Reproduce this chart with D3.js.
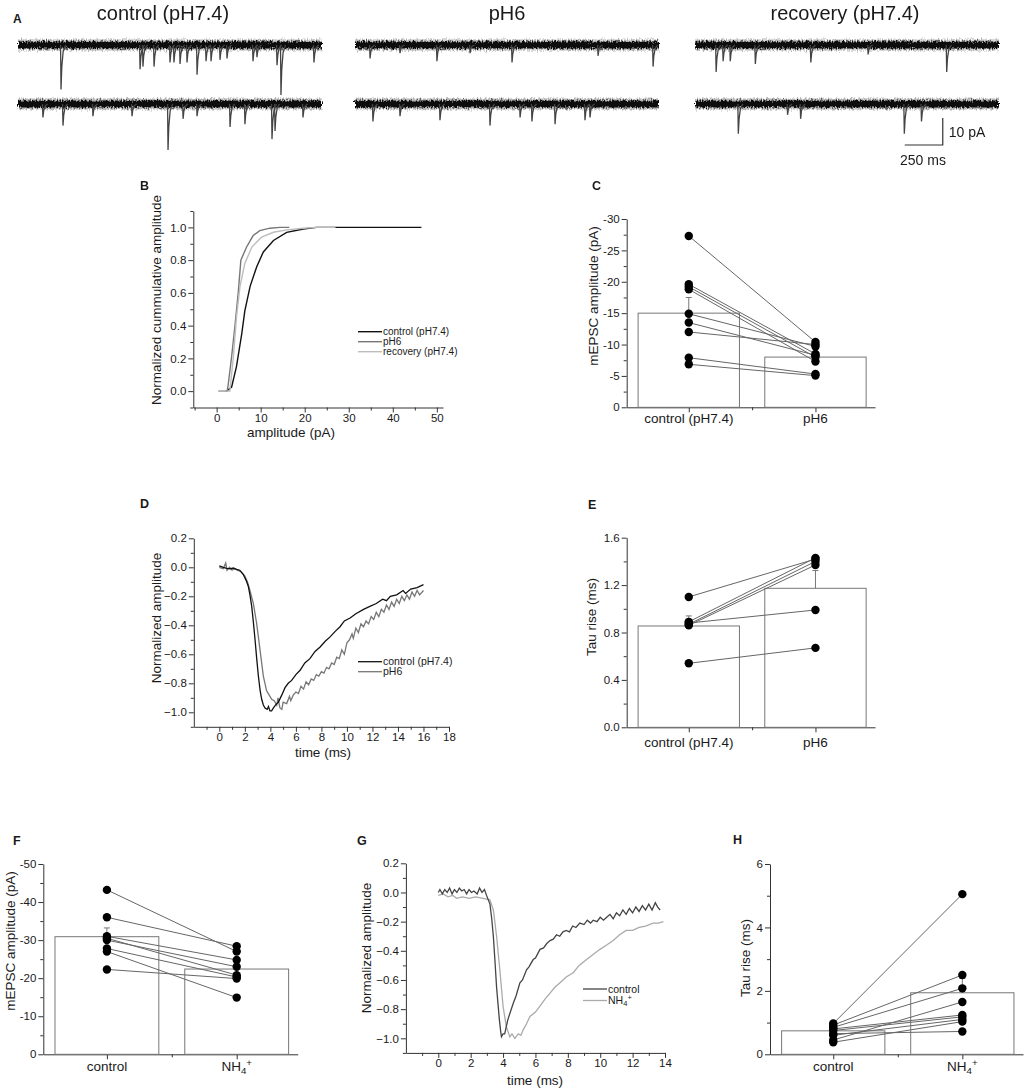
<!DOCTYPE html>
<html><head><meta charset="utf-8">
<script src="https://cdn.jsdelivr.net/npm/d3@7/dist/d3.min.js"></script>
<style>body{margin:0;background:#fff}svg{display:block}text{font-family:"Liberation Sans",Arial,sans-serif;fill:#1a1a1a}</style>
</head><body><svg id="c" width="1027" height="1089">
<defs><filter id="rough" filterUnits="userSpaceOnUse" x="0" y="0" width="1027" height="200">
<feTurbulence type="fractalNoise" baseFrequency="0.8 0.35" numOctaves="2" seed="7" result="n"/>
<feDisplacementMap in="SourceGraphic" in2="n" scale="6" xChannelSelector="R" yChannelSelector="G"/>
</filter></defs></svg>
<script>
// ---------------- DATA ----------------
const traceTitles = ["control (pH7.4)", "pH6", "recovery (pH7.4)"];
// events: [time ms, amplitude pA] (2 rows each)
const evControl1 = [[283,16.5],[803,9],[822,8],[895,8],[1000,6.5],[1026,6.5],[1066,7],[1112,6.5],[1178,11],[1237,6],[1270,6],[1329,5.5],[1375,5],[1546,6],[1572,4.5],[1704,7.5],[1730,18.5],[1947,6.5]];
const evControl2 = [[164,5],[296,8],[493,4.5],[750,4.5],[987,17],[1086,5.5],[1178,4.5],[1395,8.5],[1493,7.5],[1671,13],[1691,10],[1875,5]];
const evPH61 = [[99,5],[296,3],[539,6],[757,3],[1033,6.5],[1599,4],[1961,8]];
const evPH62 = [[118,6.5],[296,4.5],[559,6],[888,8],[1086,5],[1164,6.5],[1316,7.5],[1513,6],[1546,5]];
const evRec1 = [[139,10],[185,6],[232,6],[397,7],[762,6.5],[1139,3.5],[1656,10]];
const evRec2 = [[285,11],[609,4],[695,5.5],[1377,11],[1490,6.5]];

// B cumulative
const bLegend = ["control (pH7.4)", "pH6", "recovery (pH7.4)"];
const bControl = [[2.0,0],[2.3,0],[3.4,0.025],[4.5,0.15],[5.7,0.35],[6.4,0.49],[7.6,0.64],[9.1,0.76],[10.6,0.85],[12.9,0.92],[15.9,0.97],[19.7,0.99],[22.7,1.0],[46.5,1.0]];
const bPH6 = [[0.4,0],[2.4,0],[2.65,0.045],[3.4,0.21],[4.2,0.41],[4.9,0.6],[5.5,0.8],[6.8,0.88],[8.3,0.95],[9.8,0.98],[12.1,0.995],[14.4,1.0],[16.5,1.0]];
const bRecovery = [[0.4,0],[3.0,0],[3.8,0.21],[4.5,0.45],[5.3,0.64],[6.4,0.78],[8.0,0.88],[10.2,0.94],[12.9,0.97],[15.9,0.985],[19.7,0.995],[22.7,1.0],[27,1.0]];

// C amplitude pairs (pA)
const cCategories = ["control (pH7.4)", "pH6"];
const cMeans = [-15.0, -8.0];
const cSem = [2.5, 0.7];
const cControl = [-27.3,-19.6,-19.2,-18.8,-14.9,-13.5,-12.0,-7.9,-6.85];
const cPH6 = [-10.4,-8.5,-8.0,-7.3,-9.7,-8.3,-10.0,-5.3,-5.05];

// D averaged mEPSC
const dLegend = ["control (pH7.4)", "pH6"];
const dControl = [[0,0.01],[0.3,0.0],[0.58,-0.007],[0.9,-0.01],[1.1,-0.005],[1.36,-0.014],[1.6,-0.02],[1.88,-0.05],[2.1,-0.09],[2.27,-0.13],[2.4,-0.19],[2.54,-0.27],[2.67,-0.38],[2.8,-0.5],[2.93,-0.63],[3.06,-0.75],[3.2,-0.85],[3.32,-0.91],[3.45,-0.95],[3.58,-0.97],[3.75,-0.98],[3.85,-0.96],[3.97,-0.99],[4.1,-0.99],[4.24,-0.97],[4.4,-0.95],[4.63,-0.93],[4.9,-0.88],[5.15,-0.83],[5.4,-0.8],[5.67,-0.78],[6.0,-0.74],[6.33,-0.71],[6.7,-0.66],[7.1,-0.63],[7.5,-0.58],[7.9,-0.55],[8.3,-0.51],[8.68,-0.48],[9.1,-0.44],[9.46,-0.41],[9.8,-0.37],[10.25,-0.35],[10.7,-0.32],[11.3,-0.29],[11.8,-0.27],[12.3,-0.25],[12.8,-0.22],[13.1,-0.23],[13.4,-0.2],[13.9,-0.19],[14.4,-0.16],[14.6,-0.18],[15.0,-0.15],[15.5,-0.14],[16.0,-0.12]];
const dPH6 = [[0,0],[0.3,-0.01],[0.5,0.03],[0.6,-0.02],[0.8,0],[1.0,-0.02],[1.2,-0.01],[1.4,-0.02],[1.7,-0.03],[2.0,-0.06],[2.2,-0.1],[2.4,-0.16],[2.67,-0.25],[2.93,-0.39],[3.19,-0.57],[3.45,-0.75],[3.7,-0.85],[3.9,-0.88],[4.1,-0.91],[4.3,-0.92],[4.5,-0.95],[4.6,-0.9],[4.75,-0.97],[4.9,-0.98],[5.0,-0.93],[5.28,-0.94],[5.5,-0.89],[5.6,-0.92],[5.8,-0.88],[6.0,-0.86],[6.2,-0.87],[6.4,-0.82],[6.6,-0.84],[6.8,-0.79],[7.0,-0.81],[7.2,-0.77],[7.4,-0.78],[7.6,-0.74],[7.8,-0.75],[8.0,-0.72],[8.2,-0.73],[8.4,-0.69],[8.6,-0.7],[8.8,-0.66],[9.0,-0.67],[9.2,-0.62],[9.4,-0.63],[9.6,-0.57],[9.8,-0.6],[10.0,-0.52],[10.2,-0.5],[10.4,-0.46],[10.5,-0.49],[10.7,-0.42],[10.9,-0.45],[11.1,-0.39],[11.3,-0.41],[11.5,-0.37],[11.7,-0.39],[11.9,-0.34],[12.1,-0.36],[12.3,-0.31],[12.5,-0.34],[12.7,-0.29],[12.9,-0.31],[13.1,-0.26],[13.3,-0.29],[13.5,-0.24],[13.7,-0.27],[13.9,-0.22],[14.1,-0.25],[14.3,-0.2],[14.5,-0.23],[14.7,-0.19],[14.9,-0.22],[15.1,-0.17],[15.3,-0.2],[15.5,-0.16],[15.7,-0.19],[16.0,-0.16]];

// E tau rise (ms)
const eCategories = ["control (pH7.4)", "pH6"];
const eMeans = [0.855, 1.173];
const eSem = [0.085, 0.15];
const eControl = [1.10, 0.89, 0.87, 0.86, 0.88, 0.54];
const ePH6 = [1.42, 1.43, 1.40, 1.37, 0.99, 0.67];

// F amplitude (pA)
const fCategories = ["control", "NH4+"];
const fMeans = [-30.9, -22.4];
const fSem = [2.3, 1.4];
const fControl = [-43.2,-36.0,-31.0,-30.5,-30.0,-27.8,-27.0,-22.3];
const fNH4 = [-27.0,-28.4,-24.8,-20.8,-23.0,-20.3,-14.9,-19.9];

// G averaged mEPSC
const gLegend = ["control", "NH4+"];
const gControl = [[0,0],[0.1,0.02],[0.25,-0.01],[0.4,0.02],[0.55,0.0],[0.7,0.03],[0.85,-0.01],[1.0,0.02],[1.15,0.0],[1.3,0.03],[1.45,0.01],[1.6,0.02],[1.75,-0.01],[1.9,0.02],[2.05,0.0],[2.2,0.01],[2.4,-0.01],[2.55,0.03],[2.7,0.0],[2.85,0.02],[2.98,-0.02],[3.19,-0.08],[3.3,-0.18],[3.4,-0.3],[3.5,-0.47],[3.6,-0.65],[3.7,-0.78],[3.77,-0.87],[3.85,-0.95],[3.9,-0.99],[4.0,-0.97],[4.1,-0.97],[4.2,-0.92],[4.3,-0.87],[4.45,-0.82],[4.63,-0.76],[4.8,-0.71],[5.04,-0.62],[5.2,-0.6],[5.45,-0.53],[5.6,-0.51],[5.86,-0.46],[6.0,-0.45],[6.28,-0.39],[6.5,-0.38],[6.7,-0.35],[6.9,-0.33],[7.1,-0.32],[7.3,-0.29],[7.5,-0.3],[7.7,-0.27],[7.9,-0.26],[8.1,-0.27],[8.3,-0.23],[8.5,-0.24],[8.74,-0.21],[9.0,-0.22],[9.2,-0.19],[9.4,-0.21],[9.57,-0.19],[9.8,-0.2],[10.0,-0.17],[10.2,-0.19],[10.4,-0.17],[10.6,-0.15],[10.8,-0.18],[11.0,-0.14],[11.2,-0.16],[11.4,-0.12],[11.6,-0.15],[11.8,-0.11],[12.0,-0.14],[12.2,-0.1],[12.4,-0.13],[12.6,-0.09],[12.8,-0.12],[13.0,-0.08],[13.2,-0.12],[13.4,-0.07],[13.55,-0.1],[13.7,-0.12]];
const gNH4 = [[0,-0.02],[0.3,-0.01],[0.6,-0.03],[0.9,-0.02],[1.13,-0.04],[1.5,-0.03],[1.9,-0.04],[2.3,-0.03],[2.78,-0.04],[3.19,-0.05],[3.4,-0.12],[3.6,-0.3],[3.8,-0.53],[4.0,-0.78],[4.2,-0.92],[4.42,-0.99],[4.55,-0.97],[4.73,-1.0],[4.94,-0.97],[5.1,-0.98],[5.25,-0.94],[5.45,-0.9],[5.66,-0.85],[6.0,-0.82],[6.28,-0.78],[6.6,-0.73],[6.9,-0.69],[7.2,-0.65],[7.5,-0.62],[7.9,-0.58],[8.33,-0.55],[8.7,-0.5],[9.16,-0.46],[9.5,-0.43],[9.98,-0.39],[10.4,-0.36],[10.8,-0.33],[11.2,-0.29],[11.6,-0.26],[12.0,-0.26],[12.4,-0.24],[12.8,-0.23],[13.27,-0.21],[13.6,-0.21],[13.9,-0.2]];

// H tau rise (ms)
const hCategories = ["control", "NH4+"];
const hMeans = [0.74, 1.94];
const hSem = [0.07, 0.45];
const hControl = [0.97,0.92,0.85,0.45,0.80,0.75,0.60,0.38,0.65];
const hNH4 = [5.05,2.5,2.08,1.65,1.24,1.18,1.10,1.03,0.72];

// ---------------- DRAWING ----------------
const svg = d3.select("#c");
const AX = "#333", TICKFS = 11.5, LABFS = 13.5;

function label(txt, x, y, opts = {}) {
  const t = svg.append("text").attr("x", x).attr("y", y)
    .attr("font-size", opts.fs || LABFS).attr("text-anchor", opts.anchor || "middle")
    .attr("font-weight", opts.bold ? "bold" : null);
  if (opts.rot) t.attr("transform", `rotate(-90,${x},${y})`);
  writeRich(t, txt);
  return t;
}
function writeRich(t, txt) {
  if (txt === "NH4+") {
    t.append("tspan").text("NH");
    t.append("tspan").attr("dy", "0.3em").attr("font-size", "0.72em").text("4");
    t.append("tspan").attr("dy", "-0.8em").attr("font-size", "0.72em").text("+");
  } else t.text(txt);
}

function axes(x, y, o) {
  const [x0] = x.range(), [y0] = y.range();
  const gx = svg.append("g").attr("transform", `translate(0,${y0})`);
  gx.call(d3.axisBottom(x).tickValues(o.xTicks).tickSize(5).tickSizeOuter(0).tickPadding(1)
    .tickFormat(o.xFmt || (() => "")));
  const gxm = svg.append("g").attr("transform", `translate(0,${y0})`);
  gxm.call(d3.axisBottom(x).tickValues(o.xMinor || []).tickSize(3).tickFormat(""));
  gxm.select(".domain").remove();
  const gy = svg.append("g").attr("transform", `translate(${x0},0)`);
  gy.call(d3.axisLeft(y).tickValues(o.yTicks).tickSize(5).tickSizeOuter(0).tickPadding(2)
    .tickFormat(o.yFmt || (d => String(d))));
  const gym = svg.append("g").attr("transform", `translate(${x0},0)`);
  gym.call(d3.axisLeft(y).tickValues(o.yMinor || []).tickSize(3).tickFormat(""));
  gym.select(".domain").remove();
  [gx, gxm, gy, gym].forEach(g => {
    g.selectAll("path,line").attr("stroke", AX).attr("stroke-width", 1);
    g.selectAll("text").attr("font-size", TICKFS).attr("fill", "#1a1a1a")
      .attr("font-family", '"Liberation Sans",Arial,sans-serif');
  });
}
const range = (a, b, s) => d3.range(a, b + s / 2, s).map(v => +v.toFixed(4));

// ---- Panel A ----
label("A", 13, 23, { fs: 12, bold: true, anchor: "start" });
const traceCfg = [
  { title: traceTitles[0], tx: 163, x0: 18, rows: [evControl1, evControl2] },
  { title: traceTitles[1], tx: 507, x0: 355, rows: [evPH61, evPH62] },
  { title: traceTitles[2], tx: 845, x0: 695, rows: [evRec1, evRec2] }
];
const rowBase = [45, 104];
const bandG = svg.append("g").attr("filter", "url(#rough)");
traceCfg.forEach(cfg => {
  label(cfg.title, cfg.tx, 20, { fs: 20 });
  const tx = d3.scaleLinear().domain([0, 2000]).range([cfg.x0, cfg.x0 + 304]);
  cfg.rows.forEach((evs, ri) => {
    const ty = d3.scaleLinear().domain([0, 10]).range([rowBase[ri], rowBase[ri] + 27]);
    bandG.append("rect").attr("x", tx(0)).attr("width", tx(2000) - tx(0)).attr("y", ty(0) - 5.5).attr("height", 11)
      .attr("fill", "#777").attr("opacity", 0.55);
    bandG.append("rect").attr("x", tx(0)).attr("width", tx(2000) - tx(0)).attr("y", ty(0) - 3.5).attr("height", 7)
      .attr("fill", "#111");
    const ln = d3.line().x(d => tx(d[0])).y(d => ty(d[1]));
    evs.forEach(([t, a]) => {
      svg.append("path").attr("fill", "none").attr("stroke", "#444").attr("stroke-width", 1.3)
        .attr("d", ln([[t - 3, 0], [t, a], [t + 5, a * 0.5], [t + 14, a * 0.15], [t + 30, 0]]));
    });
  });
});
// scale bar (10 pA, 250 ms)
{
  const sx = d3.scaleLinear().domain([0, 2000]).range([695, 999]);
  const sy = d3.scaleLinear().domain([0, 10]).range([145, 118]);
  svg.append("path").attr("fill", "none").attr("stroke", "#333").attr("stroke-width", 1.2)
    .attr("d", `M${sx(1380)},${sy(0)}H${sx(1630)}V${sy(10)}`);
  label("10 pA", sx(1630) + 6, 137, { fs: 14, anchor: "start" });
  label("250 ms", 900, 165, { fs: 14, anchor: "start" });
}

// ---- Panel B ----
{
  label("B", 140, 190, { fs: 12.5, bold: true, anchor: "start" });
  const x = d3.scaleLinear().domain([-5.3, 51.4]).range([193.3, 443]);
  const y = d3.scaleLinear().domain([-0.1, 1.1]).range([407.5, 211]);
  axes(x, y, { xTicks: range(0, 50, 10), xMinor: range(-5, 45, 10), xFmt: d => d,
    yTicks: range(0, 1, 0.2), yMinor: range(-0.1, 1.1, 0.2), yFmt: d3.format(".1f") });
  const ln = d3.line().x(d => x(d[0])).y(d => y(d[1]));
  const cols = ["#111", "#777", "#bdbdbd"];
  [bControl, bPH6, bRecovery].forEach((s, i) =>
    svg.append("path").attr("d", ln(s)).attr("fill", "none").attr("stroke", cols[i]).attr("stroke-width", 1.4));
  bLegend.forEach((t, i) => {
    const yy = 331.7 + i * 10;
    svg.append("line").attr("x1", 358).attr("x2", 382).attr("y1", yy).attr("y2", yy).attr("stroke", cols[i]).attr("stroke-width", 1.4);
    label(t, 383, yy + 3.5, { fs: 10, anchor: "start" });
  });
  label("Normalized cummulative amplitude", 161, 300, { rot: true });
  label("amplitude (pA)", 291, 437);
}

// ---- bar + pairs helper ----
function barPanel(o) {
  const x = d3.scaleLinear().domain([-0.49, 1.47]).range(o.xr);
  const y = d3.scaleLinear().domain(o.yd).range(o.yr);
  axes(x, y, { xTicks: [0, 1], xMinor: [0.5], yTicks: o.yTicks, yMinor: o.yMinor, yFmt: o.yFmt || (d => String(d)) });
  o.means.forEach((m, i) => {
    const sign = m < 0 ? -1 : 1;
    const top = y(m + sign * o.sem[i]);
    svg.append("line").attr("x1", x(i)).attr("x2", x(i)).attr("y1", y(m)).attr("y2", top).attr("stroke", "#777");
    svg.append("line").attr("x1", x(i) - 3).attr("x2", x(i) + 3).attr("y1", top).attr("y2", top).attr("stroke", "#777");
    svg.append("rect").attr("x", x(i - 0.4)).attr("width", x(0.4) - x(-0.4))
      .attr("y", Math.min(y(m), y(0))).attr("height", Math.abs(y(0) - y(m)))
      .attr("fill", "none").attr("stroke", "#777").attr("stroke-width", 1);
  });
  o.a.forEach((v, i) => svg.append("line").attr("x1", x(0)).attr("x2", x(1)).attr("y1", y(v)).attr("y2", y(o.b[i]))
    .attr("stroke", "#666").attr("stroke-width", 1));
  [o.a, o.b].forEach((arr, k) => arr.forEach(v =>
    svg.append("circle").attr("cx", x(k)).attr("cy", y(v)).attr("r", 4.2).attr("fill", "#000")));
  o.cats.forEach((c, i) => label(c, x(i), o.catY));
  label(o.ylab, o.ylx, o.yly, { rot: true });
  label(o.letter, o.lx, o.ly, { fs: 12.5, bold: true, anchor: "start" });
}

barPanel({ xr: [626.7, 875], yd: [0, -30], yr: [407.3, 219], yTicks: range(-30, 0, 5), yMinor: range(-27.5, -2.5, 5),
  means: cMeans, sem: cSem, a: cControl, b: cPH6, cats: cCategories, catY: 423,
  ylab: "mEPSC amplitude (pA)", ylx: 598, yly: 296, letter: "C", lx: 592, ly: 190 });

barPanel({ xr: [626.7, 875], yd: [0, 1.6], yr: [727.3, 537.7], yTicks: [0, 0.4, 0.8, 1.2, 1.6], yMinor: [0.2, 0.6, 1.0, 1.4],
  yFmt: d3.format(".1f"),
  means: eMeans, sem: eSem, a: eControl, b: ePH6, cats: eCategories, catY: 747,
  ylab: "Tau rise (ms)", ylx: 596, yly: 617, letter: "E", lx: 588, ly: 509 });

barPanel({ xr: [43.3, 297.7], yd: [0, -50], yr: [1054.3, 864], yTicks: range(-50, 0, 10), yMinor: range(-45, -5, 10),
  means: fMeans, sem: fSem, a: fControl, b: fNH4, cats: fCategories, catY: 1071,
  ylab: "mEPSC amplitude (pA)", ylx: 15, yly: 941, letter: "F", lx: 13, ly: 845 });

barPanel({ xr: [770, 1023], yd: [0, 6], yr: [1054.3, 864], yTicks: [0, 2, 4, 6], yMinor: [1, 3, 5],
  means: hMeans, sem: hSem, a: hControl, b: hNH4, cats: hCategories, catY: 1071,
  ylab: "Tau rise (ms)", ylx: 750, yly: 958, letter: "H", lx: 733, ly: 844 });

// ---- Panels D and G ----
function tracePanel(o) {
  const x = d3.scaleLinear().domain(o.xd).range(o.xr);
  const y = d3.scaleLinear().domain([-1.1, 0.2]).range(o.yr);
  axes(x, y, { xTicks: o.xTicks, xMinor: o.xMinor, xFmt: d => d,
    yTicks: range(-1, 0.2, 0.2), yMinor: range(-1.1, 0.1, 0.2), yFmt: d3.format(".1f") });
  const ln = d3.line().x(d => x(d[0])).y(d => y(d[1]));
  o.order.forEach(i => svg.append("path").attr("d", ln(o.series[i])).attr("fill", "none")
    .attr("stroke", o.cols[i]).attr("stroke-width", 1.3));
  o.legend.forEach((t, i) => {
    const yy = o.legY + i * o.legDy;
    svg.append("line").attr("x1", o.legX).attr("x2", o.legX + 24).attr("y1", yy).attr("y2", yy).attr("stroke", o.cols[i]).attr("stroke-width", 1.3);
    label(t, o.legX + 25, yy + 3.5, { fs: o.legFs, anchor: "start" });
  });
  label("Normalized amplitude", o.ylx, o.yly, { rot: true });
  label("time (ms)", o.xlx, o.xly);
  label(o.letter, o.lx, o.ly, { fs: 12.5, bold: true, anchor: "start" });
}
tracePanel({ xd: [-2, 18], xr: [193.8, 449], yr: [726.8, 538.3], xTicks: range(0, 18, 2), xMinor: range(-1, 17, 2),
  series: [dControl, dPH6], cols: ["#111", "#777"], order: [1, 0], legend: dLegend, legX: 358, legY: 661.7, legDy: 10, legFs: 10.5,
  ylx: 161, yly: 618, xlx: 323, xly: 757, letter: "D", lx: 140, ly: 508 });
tracePanel({ xd: [-2, 14], xr: [405.9, 665], yr: [1052.9, 863.3], xTicks: range(0, 14, 2), xMinor: range(-1, 13, 2),
  series: [gControl, gNH4], cols: ["#444", "#aaa"], order: [1, 0], legend: gLegend, legX: 583, legY: 989, legDy: 11.5, legFs: 10.5,
  ylx: 371, yly: 948, xlx: 535, xly: 1085, letter: "G", lx: 357, ly: 845 });
</script></body></html>
